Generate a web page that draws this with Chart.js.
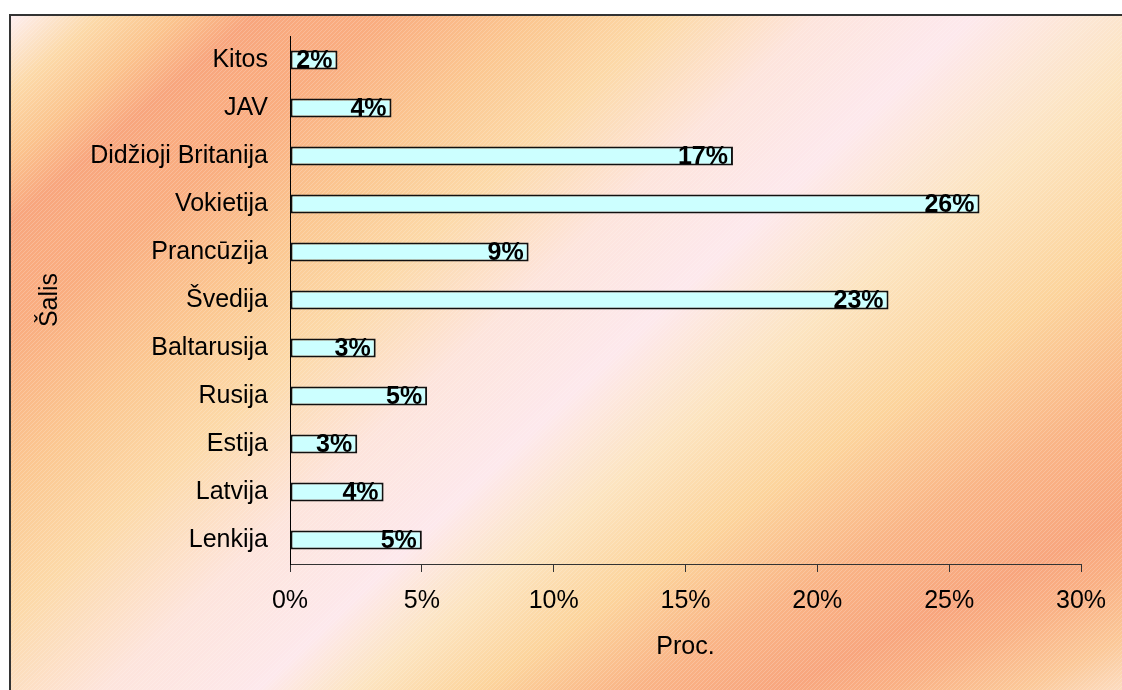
<!DOCTYPE html>
<html>
<head>
<meta charset="utf-8">
<script src="https://cdn.jsdelivr.net/npm/chart.js@4/dist/chart.umd.min.js"></script>
<style>
	body { margin: 0; background: #fff; }
	canvas { display: block; }
</style>
</head>
<body>
<canvas id="chart" width="1122" height="690"></canvas>
<script>
const countries = ["Kitos", "JAV", "Didžioji Britanija", "Vokietija", "Prancūzija", "Švedija",
	"Baltarusija", "Rusija", "Estija", "Latvija", "Lenkija"];
const shares = [1.8, 3.85, 16.8, 26.15, 9.05, 22.7, 3.25, 5.2, 2.55, 3.55, 5.0];
const xTitle = "Proc.";
const yTitle = "Šalis";

const FONT = "'Liberation Sans', Arial, sans-serif";

// Backdrop: fanned diagonal bands (pink / peach / salmon), built once offscreen
function buildBackdrop(w, h) {
	// band isolines, each from lower-left to upper-right point
	const lines = [
		[[10, 15], [300, -230]],
		[[20, 265], [310, 20]],
		[[250, 680], [930, 20]],
		[[800, 680], [1110, 525]],
		[[812, 845], [1122, 690]]
	].map(([a, b]) => {
		const nx = -(b[1] - a[1]), ny = b[0] - a[0];
		const len = Math.hypot(nx, ny);
		return { x: a[0], y: a[1], nx: nx / len, ny: ny / len };
	});
	const hex = s => [1, 3, 5].map(i => parseInt(s.slice(i, i + 2), 16));
	const stops = [
		[0, "#fdeef0"], [0.3, "#fcd9a8"], [0.55, "#fbc48e"], [0.8, "#f8a67e"],
		[1.1, "#f9ad80"], [1.35, "#fbc892"], [1.55, "#fcd9a8"], [1.8, "#fde4dc"],
		[2.05, "#fde8ec"], [2.3, "#fce4c0"], [2.55, "#fcd49c"], [2.8, "#f9b486"],
		[3.0, "#f8a67e"], [3.3, "#f9b084"], [3.7, "#fbc898"], [4, "#fcdcc0"]
	].map(([u, c]) => [u, hex(c)]);

	const cv = document.createElement("canvas");
	cv.width = w; cv.height = h;
	const cx = cv.getContext("2d");
	const img = cx.createImageData(w, h);
	const f = new Array(lines.length);
	for (let y = 0; y < h; y++) {
		for (let x = 0; x < w; x++) {
			for (let k = 0; k < lines.length; k++) {
				const L = lines[k];
				f[k] = (x - L.x) * L.nx + (y - L.y) * L.ny;
			}
			let u;
			if (f[0] <= 0) u = 0;
			else if (f[lines.length - 1] > 0) u = lines.length - 1;
			else {
				for (let k = 0; k < lines.length - 1; k++) {
					if (f[k] > 0 && f[k + 1] <= 0) { u = k + f[k] / (f[k] - f[k + 1]); break; }
				}
			}
			let j = 0;
			while (j < stops.length - 2 && u > stops[j + 1][0]) j++;
			const [u0, c0] = stops[j], [u1, c1] = stops[j + 1];
			const t = Math.min(1, Math.max(0, (u - u0) / (u1 - u0)));
			const o = (y * w + x) * 4;
			img.data[o] = c0[0] + (c1[0] - c0[0]) * t;
			img.data[o + 1] = c0[1] + (c1[1] - c0[1]) * t;
			img.data[o + 2] = c0[2] + (c1[2] - c0[2]) * t;
			img.data[o + 3] = 255;
		}
	}
	cx.putImageData(img, 0, 0);

	// thin white upward-diagonal hatch
	cx.strokeStyle = "rgba(255,255,255,0.2)";
	cx.lineWidth = 1;
	cx.beginPath();
	for (let k = 0; k < w + h; k += 4) {
		cx.moveTo(k, 0);
		cx.lineTo(k - h, h);
	}
	cx.stroke();
	return cv;
}

let backdropCanvas = null;

const backdrop = {
	id: "backdrop",
	beforeDraw(chart) {
		const ctx = chart.ctx;
		const w = chart.width, h = chart.height;
		if (!backdropCanvas) backdropCanvas = buildBackdrop(w, h);
		ctx.save();
		ctx.fillStyle = "#fff";
		ctx.fillRect(0, 0, w, h);
		ctx.drawImage(backdropCanvas, 10, 15, w - 10, h - 15, 10, 15, w - 10, h - 15);

		ctx.strokeStyle = "#333";
		ctx.lineWidth = 2;
		ctx.beginPath();
		ctx.moveTo(10, h);
		ctx.lineTo(10, 15);
		ctx.lineTo(w, 15);
		ctx.stroke();
		ctx.restore();
	}
};

// Bold percentage labels at the inner end of each bar
const barLabels = {
	id: "barLabels",
	afterDatasetsDraw(chart) {
		const ctx = chart.ctx;
		const meta = chart.getDatasetMeta(0);
		ctx.save();
		ctx.font = "bold 25px " + FONT;
		ctx.fillStyle = "#000";
		ctx.textAlign = "right";
		ctx.textBaseline = "middle";
		meta.data.forEach((bar, i) => {
			ctx.fillText(Math.round(shares[i]) + "%", bar.x - 5, bar.y + 1);
		});
		ctx.restore();
	}
};

new Chart(document.getElementById("chart"), {
	type: "bar",
	data: {
		labels: countries,
		datasets: [{
			data: shares,
			backgroundColor: "#ccffff",
			borderColor: "#111",
			borderWidth: 2,
			borderSkipped: false,
			categoryPercentage: 1,
			barPercentage: 0.4
		}]
	},
	options: {
		indexAxis: "y",
		responsive: false,
		animation: false,
		devicePixelRatio: 1,
		layout: {
			padding: { left: 10, top: 36, right: 41, bottom: 0 }
		},
		scales: {
			x: {
				min: 0,
				max: 30,
				ticks: {
					stepSize: 5,
					padding: 14,
					color: "#000",
					font: { family: FONT, size: 25 },
					callback: v => v + "%"
				},
				grid: {
					drawOnChartArea: false,
					drawTicks: true,
					tickLength: 8,
					color: "#333"
				},
				border: { display: true, color: "#333", width: 1 },
				title: {
					display: true,
					text: xTitle,
					color: "#000",
					font: { family: FONT, size: 25 },
					padding: { top: 0, bottom: 28 }
				},
				afterFit(scale) { scale.height = 126; }
			},
			y: {
				ticks: {
					padding: 14,
					color: "#000",
					font: { family: FONT, size: 25 }
				},
				grid: { display: false },
				border: { display: true, color: "#000", width: 1 },
				title: {
					display: true,
					text: yTitle,
					color: "#000",
					font: { family: FONT, size: 25 },
					padding: { top: 25, bottom: 0 }
				},
				afterFit(scale) { scale.width = 280; }
			}
		},
		plugins: {
			legend: { display: false },
			tooltip: { enabled: false }
		}
	},
	plugins: [backdrop, barLabels]
});
</script>
</body>
</html>
